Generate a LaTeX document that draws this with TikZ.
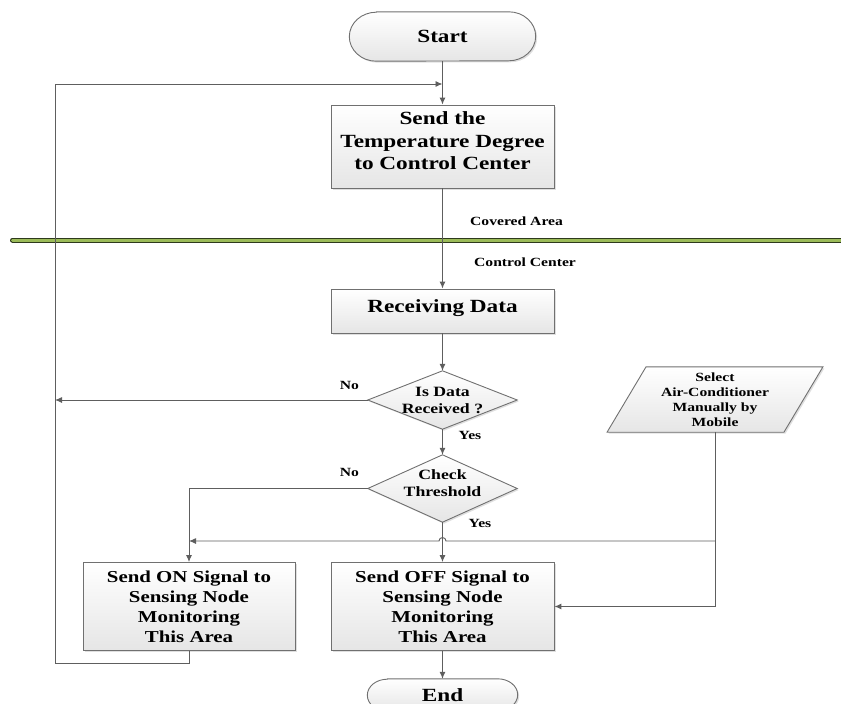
\documentclass[tikz,border=0pt]{standalone}
\usepackage{fontspec}
\setmainfont{Liberation Serif}[FakeStretch=1.25]
\usetikzlibrary{arrows.meta,shadows,calc,backgrounds}
\definecolor{lineg}{HTML}{5E5E5E}
\definecolor{boxg}{HTML}{707070}
\definecolor{olivefill}{HTML}{9BBB59}
\definecolor{olivedark}{HTML}{2E3A1C}
\begin{document}
\begin{tikzpicture}[x=1pt,y=-1pt,
  bigfont/.style={font=\bfseries\fontsize{18.6}{22.5}\selectfont},
  midfont/.style={font=\bfseries\fontsize{16.7}{20}\selectfont},
  dfont/.style={font=\bfseries\fontsize{14.2}{17}\selectfont},
  smallfont/.style={font=\bfseries\fontsize{12.5}{15}\selectfont},
  shapefill/.style={draw=boxg, line width=0.9pt, top color=white, bottom color=gray!20,
    drop shadow={shadow xshift=1.5pt, shadow yshift=-1.5pt, opacity=0.25}},
  boxst/.style={rectangle, shapefill, inner sep=0pt, align=center},
  holder/.style={rectangle, inner sep=0pt, align=center},
  conn/.style={draw=lineg, line width=0.95pt, -{Latex[length=7pt,width=6pt]}},
  lbl/.style={smallfont, inner sep=0pt},
]
\useasboundingbox (0,0) rectangle (841,704);
\clip (0,0) rectangle (841,704);

% terminals
\node[holder, bigfont, minimum width=186pt, minimum height=49pt] (start) at (442.5,36.5) {Start};
\node[holder, bigfont, minimum width=150pt, minimum height=32pt] (end) at (442.5,695) {End};

% process boxes
\node[boxst, bigfont, minimum width=223pt, minimum height=83pt] (send) at (442.5,146.5) {};
\node[holder, bigfont] (sendt) at (442.5,141) {Send the\\Temperature Degree\\to Control Center};
\node[boxst, bigfont, minimum width=223pt, minimum height=44pt] (recv) at (442.5,311) {};
\node[holder, bigfont] (recvt) at (442.5,308.5) {Receiving Data};
\node[boxst, midfont, minimum width=212pt, minimum height=88pt] (on) at (189,606.5) {Send ON Signal to\\Sensing Node\\Monitoring\\This Area};
\node[boxst, midfont, minimum width=223pt, minimum height=88pt] (off) at (442.5,606.5) {Send OFF Signal to\\Sensing Node\\Monitoring\\This Area};

% decisions
\node[holder, minimum width=149pt, minimum height=58pt] (d1) at (442.5,400) {};
\node[holder, dfont] (d1t) at (442.5,400) {Is Data\\Received ?};
\node[holder, minimum width=149pt, minimum height=67pt] (d2) at (442.5,488.5) {};
\node[holder, dfont] (d2t) at (442.5,483) {Check\\Threshold};

% input parallelogram
\node[holder, smallfont, minimum width=176.5pt, minimum height=65pt] (sel) at (715,399.5) {Select\\Air-Conditioner\\Manually by\\Mobile};

\begin{scope}[on background layer]
  \path[shapefill] ($(start.north west)+(27,0)$) -- ($(start.north east)+(-27,0)$)
     arc[start angle=90,end angle=-90,x radius=27pt,y radius=24.5pt]
     -- ($(start.south west)+(27,0)$)
     arc[start angle=270,end angle=90,x radius=27pt,y radius=24.5pt] -- cycle;
  \path[shapefill] ($(end.north west)+(20,0)$) -- ($(end.north east)+(-20,0)$)
     arc[start angle=90,end angle=-90,x radius=20pt,y radius=16pt]
     -- ($(end.south west)+(20,0)$)
     arc[start angle=270,end angle=90,x radius=20pt,y radius=16pt] -- cycle;
  \path[shapefill] (d1.north) -- (d1.east) -- (d1.south) -- (d1.west) -- cycle;
  \path[shapefill] (d2.north) -- (d2.east) -- (d2.south) -- (d2.west) -- cycle;
  \path[shapefill] ($(sel.north west)+(19.5,0)$) -- ($(sel.north east)+(19.5,0)$)
     -- ($(sel.south east)+(-19.5,0)$) -- ($(sel.south west)+(-19.5,0)$) -- cycle;
\end{scope}

% separator line
\draw[line width=5pt, olivedark, line cap=round] (12.5,240) -- (845,240);
\draw[line width=3pt, olivefill, line cap=round] (12.5,240) -- (845,240);

% coordinates
\coordinate (lt) at (55,84);
\coordinate (lb) at (55,663);
\coordinate (lp) at (55,400);
\coordinate (br) at (715,541);
\coordinate (onj) at (189,541);

% connectors
\draw[conn] (start.south) -- (send.north);
\draw[conn] (send.south) -- (recv.north);
\draw[conn] (recv.south) -- (d1.north);
\draw[conn] (d1.west) -- (lp);
\draw[conn] (d1.south) -- (d2.north);
\draw[conn] (d2.west) -| (on.north);
\draw[conn] (d2.south) -- (off.north);
\draw[conn] (sel.south) |- (off.east);
\draw[conn] (br) -- ($(off.north |- br)+(3.5,0)$)
   arc[start angle=0,end angle=180,radius=3.5pt] -- (onj);
\draw[conn] (on.south) |- (lb) -- (lt) -- (send.north |- lt);
\draw[conn] (off.south) -- (end.north);

% labels
\node[lbl, anchor=west] (cov) at (470,221) {Covered Area};
\node[lbl, anchor=west] (ctl) at (474,262) {Control Center};
\node[lbl] (no1) at (349.5,385) {No};
\node[lbl] (yes1) at (470,435) {Yes};
\node[lbl] (no2) at (349.5,472) {No};
\node[lbl] (yes2) at (480,523) {Yes};
\end{tikzpicture}
\end{document}
